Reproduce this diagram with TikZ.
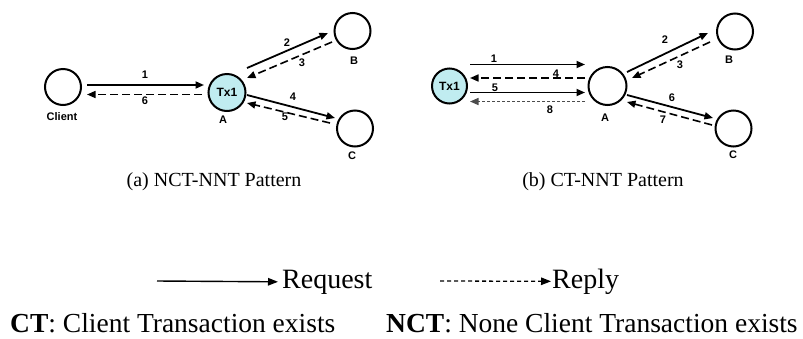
\documentclass[tikz,border=0pt]{standalone}
\usepackage{fontspec}
\setmainfont{Liberation Serif}
\newfontfamily\lblfont{Liberation Sans}
\usetikzlibrary{arrows.meta,calc}
\definecolor{txcyan}{RGB}{192,236,240}
\begin{document}
\begin{tikzpicture}[x=1pt,y=-1pt,
  peer/.style={circle,draw,line width=2pt,inner sep=0pt,minimum size=#1},
  peer/.default=36pt,
  txpeer/.style={peer=#1,fill=txcyan,font=\lblfont\bfseries\fontsize{12}{14}\selectfont},
  txpeer/.default=37pt,
  tag/.style={font=\lblfont\bfseries\fontsize{11}{13}\selectfont,inner sep=0pt},
  req/.style={-{Triangle[length=8.5pt,width=7pt]},line width=1.8pt},
  rep/.style={-{Triangle[length=8.5pt,width=7pt]},line width=1.6pt,dash pattern=on 8pt off 4pt},
  repdot/.style={-{Triangle[length=8.5pt,width=7pt]},line width=1.5pt,black!70,dash pattern=on 3pt off 2pt},
  caption/.style={font=\fontsize{20}{24}\selectfont,inner sep=0pt},
  legend/.style={font=\fontsize{28}{32}\selectfont,inner sep=0pt,anchor=base west},
  note/.style={font=\fontsize{27.5}{30}\selectfont,inner sep=0pt,anchor=base west}
]
\useasboundingbox (0,0) rectangle (803,338);

% ---------- (a) NCT-NNT pattern ----------
\node[peer] (cl) at (63,87) {};
\node[tag] (cll) at (62,117) {Client};
\node[txpeer] (ta) at (227,92.5) {Tx1};
\node[tag] (tal) at (223,120) {A};
\node[peer] (ba) at (352.5,31) {};
\node[tag] (bal) at (354,61) {B};
\node[peer] (ca) at (355,128.5) {};
\node[tag] (cal) at (352,156) {C};

\draw[req] ($(cl)+(24,-2)$) -- ($(ta)+(-23,-7.5)$);
\draw[rep] ($(ta)+(-25,2)$) -- ($(cl)+(24,7.5)$);
\draw[req] ($(ta)+(20,-24.5)$) -- ($(ba)+(-24.5,2)$);
\draw[rep] ($(ba)+(-20.5,11)$) -- ($(ta)+(20,-14.5)$);
\draw[req] ($(ta)+(20,2.5)$) -- ($(ca)+(-20,-10.5)$);
\draw[rep] ($(ca)+(-25,-5.5)$) -- ($(ta)+(20,10.5)$);

\node[tag] (a1) at (145,75) {1};
\node[tag] (a6) at (145,101) {6};
\node[tag] (a2) at (287,43) {2};
\node[tag] (a3) at (302,63) {3};
\node[tag] (a4) at (293,97) {4};
\node[tag] (a5) at (285,117) {5};

\node[caption] (capa) at (214,182) {(a) NCT-NNT Pattern};

% ---------- (b) CT-NNT pattern ----------
\node[txpeer=35pt] (tb) at (449.5,86) {Tx1};
\node[peer=38pt] (ab) at (607.5,86) {};
\node[tag] (abl) at (605,118) {A};
\node[peer] (bb) at (735,31.5) {};
\node[tag] (bbl) at (729,60) {B};
\node[peer] (cb) at (733.5,128.5) {};
\node[tag] (cbl) at (733,155) {C};

\draw[req] ($(tb)+(20.5,-21.5)$) -- ($(ab)+(-22.5,-21.5)$);
\draw[rep] ($(ab)+(-22.5,-8)$) -- ($(tb)+(20.5,-8)$);
\draw[req] ($(tb)+(20.5,6.5)$) -- ($(ab)+(-22.5,6.5)$);
\draw[repdot] ($(ab)+(-22.5,15.5)$) -- ($(tb)+(20.5,15.5)$);
\draw[req] ($(ab)+(19.5,-14)$) -- ($(bb)+(-27,1.5)$);
\draw[rep] ($(bb)+(-25,10.5)$) -- ($(ab)+(24.5,-8)$);
\draw[req] ($(ab)+(19.5,9)$) -- ($(cb)+(-20.5,-10.5)$);
\draw[rep] ($(cb)+(-21.5,-3.5)$) -- ($(ab)+(19.5,16)$);

\node[tag] (b1) at (494,59) {1};
\node[tag] (b4) at (556,74) {4};
\node[tag] (b5) at (495,88) {5};
\node[tag] (b8) at (550,110) {8};
\node[tag] (b2) at (665,40) {2};
\node[tag] (b3) at (680,65) {3};
\node[tag] (b6) at (672,98) {6};
\node[tag] (b7) at (663,120) {7};

\node[caption] (capb) at (603,182) {(b) CT-NNT Pattern};

% ---------- legend ----------
\coordinate (rq0) at (157,281);
\node[legend] (rq) at (282,288) {Request};
\draw[-{Triangle[length=10pt,width=7.5pt]},line width=1.4pt] (rq0) -- ($(rq.west)+(-4,0)$);
\coordinate (rp0) at (440,281);
\node[legend] (rp) at (552,288) {Reply};
\draw[-{Triangle[length=10pt,width=7.5pt]},line width=1.3pt,dash pattern=on 4pt off 3pt] (rp0) -- ($(rp.west)+(-1,0)$);

\node[note] (ct) at (10,332) {\textbf{CT}: Client Transaction exists};
\node[note] (nct) at (386,332) {\textbf{NCT}: None Client Transaction exists};
\end{tikzpicture}
\end{document}
